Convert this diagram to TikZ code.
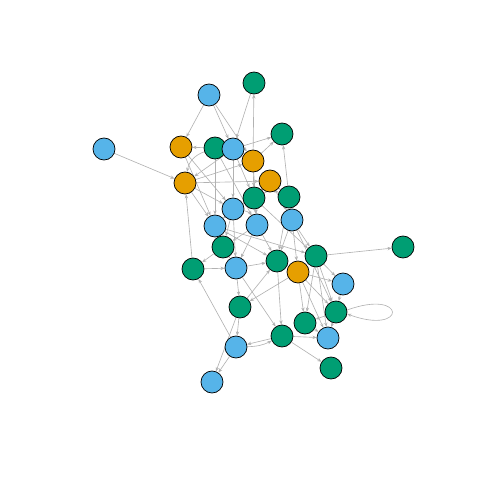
\documentclass[tikz,border=0pt]{standalone}
\usepackage{xcolor}
\definecolor{netBlue}{HTML}{56B4E9}
\definecolor{netGreen}{HTML}{009E73}
\definecolor{netOrange}{HTML}{E69F00}
\usepackage{tikz}
\usetikzlibrary{arrows.meta,backgrounds}

\begin{document}
\begin{tikzpicture}[x=0.025cm, y=-0.025cm, >={Stealth[length=3pt,width=2.4pt]},
  vtx/.style={circle, draw=black, line width=0.5pt, minimum size=0.55cm, inner sep=0pt},
  edge/.style={->, black!30, line width=0.45pt}]
  \useasboundingbox (0,0) rectangle (480,480);
  % vertices
  \foreach \n/\x/\y/\c in {1/254/83/netGreen, 2/209/95/netBlue, 3/282/134/netGreen,
      4/104/149/netBlue, 5/181/147/netOrange, 6/215/148/netGreen, 7/233/149/netBlue,
      8/253/161/netOrange, 9/185/183/netOrange, 10/270/181/netOrange, 11/254/198/netGreen,
      12/289/197/netGreen, 13/233/209/netBlue, 14/215/226/netBlue, 15/257/225/netBlue,
      16/292/220/netBlue, 17/223/247/netGreen, 18/403/247/netGreen, 19/316/256/netGreen,
      20/236/268/netBlue, 21/193/269/netGreen, 22/277/261/netGreen, 23/298/272/netOrange,
      24/343/284/netBlue, 25/240/307/netGreen, 26/336/312/netGreen, 27/305/323/netGreen,
      28/282/336/netGreen, 29/328/338/netBlue, 30/236/347/netBlue, 31/331/368/netGreen,
      32/212/382/netBlue}
    \node[vtx, fill=\c] (n\n) at (\x,\y) {};
  % connections
  \begin{scope}[on background layer]
    \foreach \a/\b in {4/9, 2/5, 2/7, 2/8, 1/7, 8/1, 6/5, 7/3, 8/3, 12/3, 5/13, 5/14,
        9/8, 9/10, 21/9, 9/14, 9/13, 7/9, 7/13, 8/11, 8/15, 10/11, 10/12, 10/16,
        11/13, 11/15, 12/16, 12/22, 13/14, 13/17, 13/20, 14/17, 14/19, 15/17, 15/20,
        15/22, 16/19, 16/22, 16/23, 16/26, 17/20, 17/21, 19/18, 19/24, 19/26, 19/27,
        19/29, 21/20, 20/25, 20/22, 30/21, 22/28, 25/22, 23/25, 23/24, 23/26, 23/27,
        23/29, 24/26, 25/30, 25/32, 26/27, 27/29, 26/29, 28/30, 28/29, 28/31, 30/32,
        20/28, 14/22, 6/14, 6/15, 7/11, 11/19}
      \draw[edge] (n\a) -- (n\b);
    \draw[edge] (n6) to[bend right=30] (n9);
    \draw[edge] (n13) to[bend left=25] (n15);
    \draw[edge] (n11) to[bend left=25] (n12);
    \draw[edge] (n30) to[bend right=12] (n28);
    % loop
    \draw[edge] (n26.10) .. controls +(60,-22) and +(60,22) .. (n26.-10);
  \end{scope}
\end{tikzpicture}
\end{document}
